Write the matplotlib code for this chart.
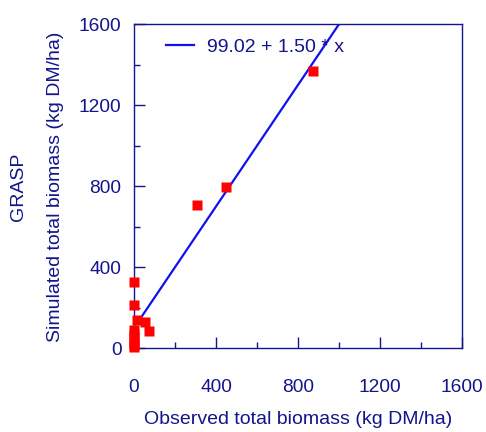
import numpy as np
from matplotlib import pyplot as plt

# observed vs simulated total biomass (kg DM/ha)
observed = [0, 0, 0, 0, 0, 0, 0, 0, 13, 54, 72, 305, 447, 873]
simulated = [325, 212, 90, 70, 50, 30, 15, 5, 138, 128, 84, 705, 793, 1367]
intercept = 99.02
slope = 1.50
ticks = [0, 400, 800, 1200, 1600]

navy = '#14148c'
plt.rcParams['font.family'] = ['Liberation Sans', 'DejaVu Sans']

fig = plt.figure(figsize=(4.86, 4.32), dpi=100)
ax = fig.add_axes([0.2757, 0.1944, 0.6749, 0.75])

xs = np.array([25, 1100])
ax.plot(xs, intercept + slope * xs, color='#1010f0', lw=1.6,
        label='%.2f + %.2f * x' % (intercept, slope))
ax.plot(observed, simulated, 's', color='#ff0000', ms=6.5, mec='none',
        clip_on=False, zorder=3)

ax.set_xlim(0, 1600)
ax.set_ylim(0, 1600)
ax.set_xticks(ticks)
ax.set_yticks(ticks)
ax.set_xticks(range(200, 1600, 400), minor=True)
ax.set_yticks(range(200, 1600, 400), minor=True)
ax.tick_params(which='both', direction='in', colors=navy, labelcolor=navy,
               labelsize=13.8, width=1)
ax.tick_params(which='major', length=8)
ax.tick_params(which='minor', length=4)
ax.tick_params(axis='x', pad=22)
ax.tick_params(axis='y', pad=9)
for s in ax.spines.values():
    s.set_color(navy)
    s.set_linewidth(1)

ax.legend(loc='upper left', bbox_to_anchor=(0.045, 1.01), frameon=False,
          handlelength=1.43, handletextpad=0.67, fontsize=14,
          labelcolor=navy)

fig.text(0.613, 0.028, 'Observed total biomass (kg DM/ha)', color=navy,
         fontsize=14, ha='center', va='center')
fig.text(0.115, 0.567, 'Simulated total biomass (kg DM/ha)', color=navy,
         fontsize=14, ha='center', va='center', rotation=90)
fig.text(0.039, 0.567, 'GRASP', color=navy, fontsize=14,
         ha='center', va='center', rotation=90)

fig.savefig('out.png', dpi=100)
